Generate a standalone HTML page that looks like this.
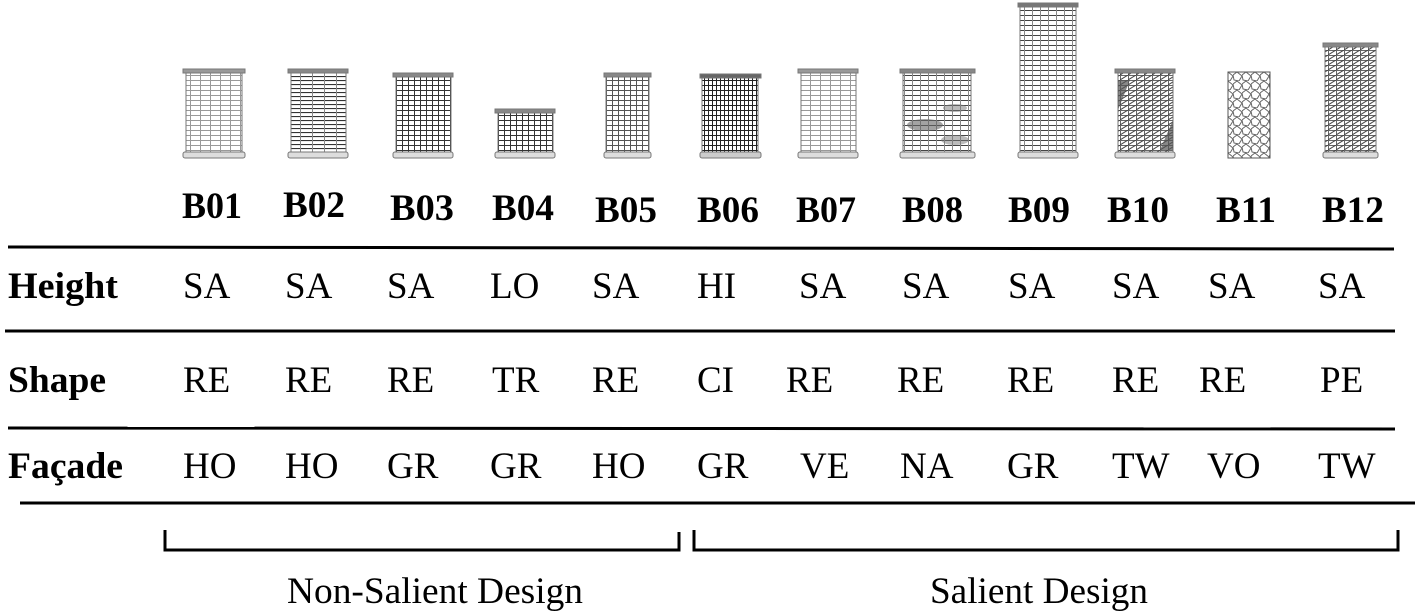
<!DOCTYPE html>
<html><head><meta charset="utf-8"><style>
html,body{margin:0;padding:0;background:#fff;}
svg{display:block;}
text{font-family:"Liberation Serif",serif;fill:#000;}
.b{font-weight:bold;font-size:37px;}
.v{font-size:37px;}
</style></head><body>
<svg width="1417" height="615" viewBox="0 0 1417 615" xmlns="http://www.w3.org/2000/svg">
<defs>
<pattern id="gL" width="10" height="5" patternUnits="userSpaceOnUse"><path d="M0 0.5H10M0.5 0V5" stroke="#999" stroke-width="1" fill="none"/></pattern>
<pattern id="gH" width="12" height="4" patternUnits="userSpaceOnUse"><path d="M0 0.5H12" stroke="#333" stroke-width="1.2"/><path d="M0.5 0V4" stroke="#888" stroke-width="1"/></pattern>
<pattern id="gD" width="6" height="5" patternUnits="userSpaceOnUse"><path d="M0 0.5H6M0.5 0V5" stroke="#333" stroke-width="1" fill="none"/></pattern>
<pattern id="gM" width="6" height="5" patternUnits="userSpaceOnUse"><path d="M0 0.5H6M0.5 0V5" stroke="#555" stroke-width="1" fill="none"/></pattern>
<pattern id="gV" width="4" height="5" patternUnits="userSpaceOnUse"><path d="M0 0.5H4M0.5 0V5" stroke="#222" stroke-width="1" fill="none"/></pattern>
<pattern id="gS" width="8" height="5" patternUnits="userSpaceOnUse"><path d="M0 0.5H8" stroke="#444" stroke-width="1"/><path d="M0.5 0V5" stroke="#888"/></pattern>
<pattern id="gT" width="8" height="5" patternUnits="userSpaceOnUse"><path d="M0 0.5H8M0.5 0V5" stroke="#666" stroke-width="1" fill="none"/><path d="M0 5L8 0" stroke="#444"/></pattern>
<pattern id="gO" width="9" height="9" patternUnits="userSpaceOnUse"><path d="M0 3L4 0L9 4L6 9L1 8Z" stroke="#666" fill="none"/></pattern>
</defs>
<g stroke="#777" stroke-width="1">
<rect x="186" y="70" width="56" height="86" fill="url(#gL)"/><rect x="183" y="69" width="62" height="4" fill="#999"/><rect x="183" y="152" width="62" height="6" rx="2" fill="#ddd"/>
<rect x="291" y="70" width="55" height="86" fill="url(#gH)"/><rect x="288" y="69" width="60" height="4" fill="#888"/><rect x="288" y="152" width="60" height="6" rx="2" fill="#ddd"/>
<rect x="396" y="74" width="55" height="82" fill="url(#gD)"/><rect x="393" y="73" width="60" height="4" fill="#888"/><rect x="393" y="152" width="60" height="6" rx="2" fill="#ddd"/>
<rect x="498" y="110" width="55" height="46" fill="url(#gD)"/><rect x="495" y="109" width="60" height="4" fill="#888"/><rect x="495" y="152" width="60" height="6" rx="2" fill="#ddd"/>
<rect x="606" y="74" width="43" height="82" fill="url(#gM)"/><rect x="604" y="73" width="47" height="4" fill="#888"/><rect x="604" y="152" width="47" height="6" rx="2" fill="#ddd"/>
<rect x="702" y="75" width="56" height="81" fill="url(#gV)"/><rect x="700" y="74" width="61" height="4" fill="#666"/><rect x="700" y="152" width="61" height="6" rx="2" fill="#ccc"/>
<rect x="801" y="70" width="55" height="86" fill="url(#gL)"/><rect x="798" y="69" width="60" height="4" fill="#999"/><rect x="798" y="152" width="60" height="6" rx="2" fill="#ddd"/>
<rect x="903" y="70" width="68" height="86" fill="url(#gS)"/><ellipse cx="925" cy="125" rx="18" ry="6" fill="#666" stroke="none" opacity=".6"/><ellipse cx="955" cy="108" rx="12" ry="4" fill="#777" stroke="none" opacity=".5"/><ellipse cx="955" cy="140" rx="14" ry="5" fill="#777" stroke="none" opacity=".5"/><rect x="900" y="69" width="75" height="4" fill="#888"/><rect x="900" y="152" width="75" height="6" rx="2" fill="#ddd"/>
<rect x="1020" y="4" width="56" height="152" fill="url(#gS)"/><rect x="1018" y="3" width="60" height="4" fill="#777"/><rect x="1018" y="152" width="60" height="6" rx="2" fill="#ddd"/>
<rect x="1118" y="70" width="55" height="86" fill="url(#gT)"/><path d="M1118 110L1130 80L1118 80Z M1173 120L1160 150L1173 150Z" fill="#555" stroke="none" opacity=".7"/><rect x="1115" y="69" width="60" height="4" fill="#888"/><rect x="1115" y="152" width="60" height="6" rx="2" fill="#ddd"/>
<rect x="1228" y="72" width="42" height="86" fill="url(#gO)" stroke="#555"/>
<rect x="1325" y="44" width="51" height="112" fill="url(#gT)"/><rect x="1323" y="43" width="55" height="4" fill="#888"/><rect x="1323" y="152" width="55" height="6" rx="2" fill="#ddd"/>
</g>
<g>
<text x="182" y="218" textLength="60" lengthAdjust="spacingAndGlyphs" class="b">B01</text>
<text x="283" y="217" textLength="62" lengthAdjust="spacingAndGlyphs" class="b">B02</text>
<text x="390" y="220" textLength="64" lengthAdjust="spacingAndGlyphs" class="b">B03</text>
<text x="492" y="220" textLength="62" lengthAdjust="spacingAndGlyphs" class="b">B04</text>
<text x="595" y="222" textLength="62" lengthAdjust="spacingAndGlyphs" class="b">B05</text>
<text x="697" y="222" textLength="62" lengthAdjust="spacingAndGlyphs" class="b">B06</text>
<text x="796" y="222" textLength="60" lengthAdjust="spacingAndGlyphs" class="b">B07</text>
<text x="902" y="222" textLength="61" lengthAdjust="spacingAndGlyphs" class="b">B08</text>
<text x="1008" y="222" textLength="62" lengthAdjust="spacingAndGlyphs" class="b">B09</text>
<text x="1107" y="222" textLength="62" lengthAdjust="spacingAndGlyphs" class="b">B10</text>
<text x="1216" y="222" textLength="60" lengthAdjust="spacingAndGlyphs" class="b">B11</text>
<text x="1322" y="222" textLength="62" lengthAdjust="spacingAndGlyphs" class="b">B12</text>
</g>
<g stroke="#000" stroke-width="3">
<line x1="8" y1="247" x2="1394" y2="249"/>
<line x1="5" y1="331" x2="1395" y2="331"/>
<line x1="8" y1="428" x2="1395" y2="429"/>
<line x1="20" y1="503" x2="1415" y2="503"/>
</g>
<text x="8" y="298" class="b" textLength="110" lengthAdjust="spacingAndGlyphs">Height</text>
<text x="8" y="392" class="b" textLength="98" lengthAdjust="spacingAndGlyphs">Shape</text>
<text x="8" y="478" class="b" textLength="115" lengthAdjust="spacingAndGlyphs">Façade</text>
<g>
<text x="183" y="298" class="v">SA</text><text x="285" y="298" class="v">SA</text><text x="387" y="298" class="v">SA</text><text x="490" y="298" class="v">LO</text><text x="592" y="298" class="v">SA</text>
<text x="697" y="298" class="v">HI</text><text x="799" y="298" class="v">SA</text><text x="902" y="298" class="v">SA</text><text x="1008" y="298" class="v">SA</text><text x="1112" y="298" class="v">SA</text><text x="1208" y="298" class="v">SA</text><text x="1318" y="298" class="v">SA</text>
<text x="183" y="392" class="v">RE</text><text x="285" y="392" class="v">RE</text><text x="387" y="392" class="v">RE</text><text x="492" y="392" class="v">TR</text><text x="592" y="392" class="v">RE</text>
<text x="697" y="392" class="v">CI</text><text x="786" y="392" class="v">RE</text><text x="897" y="392" class="v">RE</text><text x="1007" y="392" class="v">RE</text><text x="1112" y="392" class="v">RE</text><text x="1199" y="392" class="v">RE</text><text x="1320" y="392" class="v">PE</text>
<text x="183" y="478" class="v">HO</text><text x="285" y="478" class="v">HO</text><text x="387" y="478" class="v">GR</text><text x="490" y="478" class="v">GR</text><text x="592" y="478" class="v">HO</text>
<text x="697" y="478" class="v">GR</text><text x="800" y="478" class="v">VE</text><text x="900" y="478" class="v">NA</text><text x="1007" y="478" class="v">GR</text><text x="1112" y="478" class="v">TW</text><text x="1207" y="478" class="v">VO</text><text x="1318" y="478" class="v">TW</text>
</g>
<path d="M165 530V550H679V532" stroke="#000" stroke-width="3" fill="none"/>
<path d="M694 530V550H1398V530" stroke="#000" stroke-width="3" fill="none"/>
<text x="287" y="603" class="v" textLength="296" lengthAdjust="spacingAndGlyphs">Non-Salient Design</text>
<text x="930" y="603" class="v" textLength="218" lengthAdjust="spacingAndGlyphs">Salient Design</text>
</svg>
</body></html>
